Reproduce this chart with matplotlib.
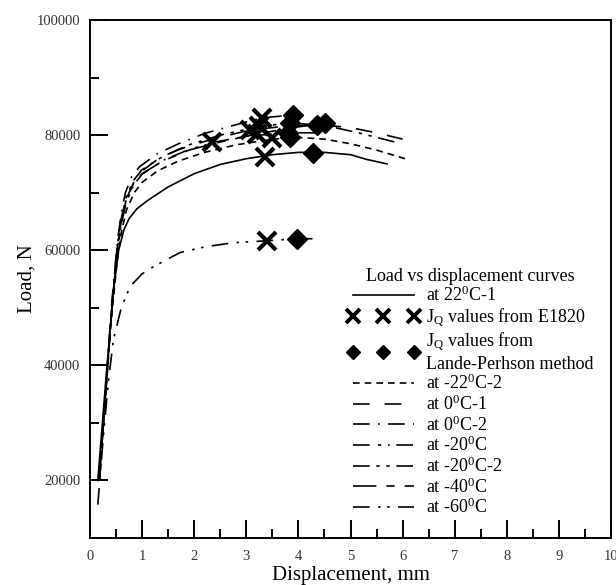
import matplotlib
matplotlib.use("Agg")
import matplotlib.pyplot as plt
from matplotlib.lines import Line2D
from matplotlib.ticker import MultipleLocator

plt.rcParams['font.family'] = ['Liberation Serif', 'DejaVu Serif']
plt.rcParams['mathtext.fontset'] = 'custom'
plt.rcParams['mathtext.rm'] = 'Liberation Serif'
plt.rcParams['mathtext.it'] = 'Liberation Serif:italic'

# ---- data ----
x_22_1 = [0.15, 0.3, 0.45, 0.55, 0.65, 0.75, 0.9, 1.1, 1.5, 2.0, 2.5, 3.0, 3.5, 4.0, 4.5, 5.0, 5.3, 5.7]
y_22_1 = [20000, 37000, 53000, 60000, 63500, 65500, 67200, 68600, 71000, 73300, 74900, 75900, 76600, 77000, 77000, 76600, 75800, 75000]

x_22_2 = [0.17, 0.3, 0.42, 0.52, 0.6, 0.7, 0.85, 1.0, 1.3, 1.7, 2.2, 2.8, 3.5, 4.0, 4.5, 5.0, 5.5, 6.05]
y_22_2 = [20000, 35000, 49000, 58000, 63000, 67000, 70000, 71800, 73800, 75500, 77000, 78300, 79300, 79600, 79300, 78500, 77400, 75900]

x_0_1 = [0.18, 0.3, 0.42, 0.52, 0.6, 0.7, 0.85, 1.0, 1.3, 1.7, 2.2, 2.8, 3.1, 3.6, 4.4, 5.0, 5.5, 6.0]
y_0_1 = [20000, 35500, 50000, 60000, 65000, 69000, 72000, 73800, 75800, 77500, 78900, 80300, 80900, 81400, 81800, 81300, 80400, 79300]

x_0_2 = [0.18, 0.3, 0.42, 0.52, 0.6, 0.68, 0.8, 0.95, 1.3, 1.7, 2.2, 2.8, 3.3, 3.9, 4.1]
y_0_2 = [20000, 36000, 51000, 61000, 66500, 70000, 72800, 74500, 76800, 78500, 80300, 81800, 83000, 83500, 83500]

x_m20 = [0.18, 0.3, 0.42, 0.52, 0.6, 0.7, 0.85, 1.0, 1.4, 1.9, 2.4, 3.0, 3.8, 4.4]
y_m20 = [20000, 35000, 50000, 59500, 64500, 68500, 71500, 73200, 75600, 77500, 78800, 79800, 80400, 80400]

x_m20_2 = [0.18, 0.3, 0.42, 0.52, 0.6, 0.7, 0.85, 1.0, 1.4, 1.9, 2.5, 3.25, 3.84, 4.5, 5.2, 5.85]
y_m20_2 = [20000, 35500, 50500, 60500, 65500, 69500, 72300, 74000, 76300, 78300, 80000, 81500, 82100, 81700, 80300, 78800]

x_m40 = [0.18, 0.3, 0.42, 0.52, 0.6, 0.7, 0.85, 1.0, 1.4, 1.9, 2.5, 3.2, 3.9, 4.51, 4.6]
y_m40 = [20000, 35000, 50000, 60000, 65000, 69000, 71800, 73300, 75500, 77400, 78800, 80200, 81300, 82100, 82100]

x_m60 = [0.15, 0.25, 0.35, 0.45, 0.6, 0.77, 1.0, 1.21, 1.5, 1.73, 2.21, 2.75, 3.4, 3.97, 4.27]
y_m60 = [15800, 27000, 37000, 44500, 50000, 53700, 55900, 57100, 58500, 59600, 60600, 61300, 61650, 62000, 62000]

x_e1820 = [2.34, 3.07, 3.3, 3.25, 3.49, 3.2, 3.36, 3.4]
y_e1820 = [78800, 80900, 83000, 81500, 79500, 80200, 76200, 61650]

x_lp = [3.9, 3.84, 3.8, 3.84, 4.36, 4.51, 4.28, 3.97]
y_lp = [83500, 82100, 80400, 79700, 81800, 82100, 76900, 62000]

labels = ['at 22$^{0}$C-1', 'at -22$^{0}$C-2', 'at 0$^{0}$C-1', 'at 0$^{0}$C-2',
          'at -20$^{0}$C', 'at -20$^{0}$C-2', 'at -40$^{0}$C', 'at -60$^{0}$C']

# ---- figure ----
fig = plt.figure(figsize=(6.16, 5.85), dpi=100)
ax = fig.add_axes([90/616, 1-538/585, (611-90)/616, (538-20)/585])

styles = {
    'solid': '-',
    'd22_2': (0, (4, 3)),
    'd0_1': (0, (10, 9)),
    'd0_2': (0, (10, 5, 1, 5)),
    'dm20': (0, (10, 5, 2, 4, 1, 4)),
    'dm20_2': (0, (10, 4, 2, 4, 2, 4)),
    'dm40': (0, (14, 6, 5, 6)),
    'dm60': (0, (10, 5, 1.5, 4, 1.5, 5)),
}
lw = 1.2
series = [(x_22_1, y_22_1, styles['solid']),
          (x_22_2, y_22_2, styles['d22_2']),
          (x_0_1, y_0_1, styles['d0_1']),
          (x_0_2, y_0_2, styles['d0_2']),
          (x_m20, y_m20, styles['dm20']),
          (x_m20_2, y_m20_2, styles['dm20_2']),
          (x_m40, y_m40, styles['dm40']),
          (x_m60, y_m60, styles['dm60'])]
for xs, ys, ls in series:
    ax.plot(xs, ys, color='black', lw=lw, linestyle=ls)

ax.plot(x_e1820, y_e1820, linestyle='none', marker='x', color='black',
        markersize=13, markeredgewidth=3)
ax.plot(x_lp, y_lp, linestyle='none', marker='D', color='black',
        markersize=10.5)

ax.set_xlim(0, 10)
ax.set_ylim(10000, 100000)
ax.xaxis.set_major_locator(MultipleLocator(1))
ax.xaxis.set_minor_locator(MultipleLocator(0.5))
ax.yaxis.set_major_locator(MultipleLocator(20000))
ax.yaxis.set_minor_locator(MultipleLocator(10000))
ax.tick_params(which='both', direction='in', top=False, right=False, width=1.4, colors='black')
ax.tick_params(which='major', length=13)
ax.tick_params(which='minor', length=6.5)
ax.tick_params(axis='x', which='major', pad=9, labelsize=10.5, labelcolor='#333333')
ax.tick_params(axis='y', which='major', pad=7, labelsize=10.5, labelcolor='#333333')
ax.set_yticks([20000, 40000, 60000, 80000, 100000])
for sp in ax.spines.values():
    sp.set_linewidth(1.4)

ax.set_xlabel('Displacement, mm', fontsize=15, labelpad=2)
ax.set_ylabel('Load, N', fontsize=15, labelpad=0)

handles = [Line2D([], [], color='black', lw=lw, linestyle=styles['solid']),
           Line2D([], [], linestyle='none', marker='x', color='black', markersize=10, markeredgewidth=2.8),
           Line2D([], [], linestyle='none', marker='D', color='black', markersize=7.5),
           Line2D([], [], color='black', lw=lw, linestyle=styles['d22_2']),
           Line2D([], [], color='black', lw=lw, linestyle=styles['d0_1']),
           Line2D([], [], color='black', lw=lw, linestyle=styles['d0_2']),
           Line2D([], [], color='black', lw=lw, linestyle=styles['dm20']),
           Line2D([], [], color='black', lw=lw, linestyle=styles['dm20_2']),
           Line2D([], [], color='black', lw=lw, linestyle=styles['dm40']),
           Line2D([], [], color='black', lw=lw, linestyle=styles['dm60'])]
leg_labels = [labels[0], 'J$_{\\mathrm{Q}}$ values from E1820',
              'J$_{\\mathrm{Q}}$ values from\nLande-Perhson method'] + labels[1:]
leg = ax.legend(handles, leg_labels, title='Load vs displacement curves',
                loc='lower right', bbox_to_anchor=(0.995, 0.012), frameon=False,
                fontsize=13, title_fontsize=13, numpoints=3, handlelength=4.0,
                handletextpad=0.38, labelspacing=0.07, borderpad=0.3)

fig.savefig('out.png', dpi=100)
